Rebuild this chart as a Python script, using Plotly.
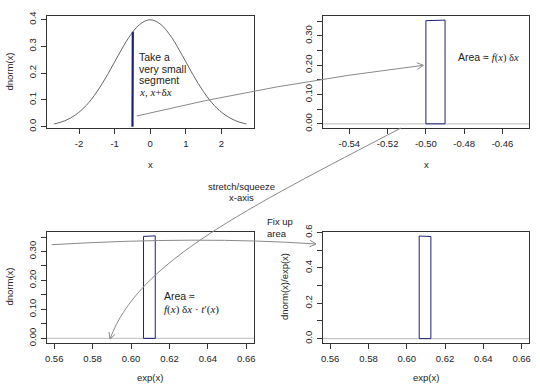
import math
import plotly.graph_objects as go

W, H = 540, 388

# ---------------- data ----------------
curve_x = [-2.7, -2.4, -2.1, -1.8, -1.5, -1.2, -0.9, -0.6, -0.3, 0.0,
           0.3, 0.6, 0.9, 1.2, 1.5, 1.8, 2.1, 2.4, 2.7]
curve_y = [0.010, 0.022, 0.044, 0.079, 0.130, 0.194, 0.266, 0.333, 0.381, 0.399,
           0.381, 0.333, 0.266, 0.194, 0.130, 0.079, 0.044, 0.022, 0.010]
seg_x = [-0.50, -0.49]          # segment x, x+dx
seg_y = [0.352, 0.354]          # dnorm at the segment ends
seg_exp_x = [0.6065, 0.6126]    # exp(x) at the segment ends
seg_ratio_y = [0.5805, 0.5775]  # dnorm(x)/exp(x)

p1_xticks = [-2, -1, 0, 1, 2]
p1_yticks = [0.0, 0.1, 0.2, 0.3, 0.4]
p2_xticks = [-0.54, -0.52, -0.50, -0.48, -0.46]
dens_yticks = [0.00, 0.05, 0.10, 0.15, 0.20, 0.25, 0.30, 0.35]
dens_ylabels = ["0.00", "", "0.10", "", "0.20", "", "0.30", ""]
exp_xticks = [0.56, 0.58, 0.60, 0.62, 0.64, 0.66]
ratio_yticks = [0.0, 0.1, 0.2, 0.3, 0.4, 0.5, 0.6]
ratio_ylabels = ["0.0", "", "0.2", "", "0.4", "", "0.6"]

# ---------------- layout helpers ----------------
SANS = "Liberation Sans, Arial, sans-serif"
SERIF = "Liberation Serif, Times New Roman, serif"
TXT = "#222222"
BOX = "#333333"
NAVY = "#1f1f7a"
ARROW = "#8a8a8a"


def px(x):
    return x / W


def py(y):
    return 1 - y / H


def poly(xs, ys):
    return [xs[0], xs[0], xs[1], xs[1], xs[0]], [0, ys[0], ys[1], 0, 0]


fig = go.Figure()

# panel 1: density curve with segment
fig.add_trace(go.Scatter(x=curve_x, y=curve_y, mode="lines", line=dict(color="#666666", width=1, shape="spline"),
                         xaxis="x", yaxis="y", hoverinfo="skip"))
sx, sy = poly(seg_x, seg_y)
fig.add_trace(go.Scatter(x=sx, y=sy, mode="lines", line=dict(color=NAVY, width=2.2),
                         xaxis="x", yaxis="y", hoverinfo="skip"))
# panel 2: zoomed segment
fig.add_trace(go.Scatter(x=sx, y=sy, mode="lines", line=dict(color=NAVY, width=1),
                         xaxis="x2", yaxis="y2", hoverinfo="skip"))
# panel 3: exp-transformed segment
ex, ey = poly(seg_exp_x, seg_y)
fig.add_trace(go.Scatter(x=ex, y=ey, mode="lines", line=dict(color=NAVY, width=1),
                         xaxis="x3", yaxis="y3", hoverinfo="skip"))
# panel 4: area-corrected
rx, ry = poly(seg_exp_x, seg_ratio_y)
fig.add_trace(go.Scatter(x=rx, y=ry, mode="lines", line=dict(color=NAVY, width=1),
                         xaxis="x4", yaxis="y4", hoverinfo="skip"))


def xaxis(domain, rng, vals, texts, anchor):
    return dict(domain=domain, range=rng, tickmode="array", tickvals=vals, ticktext=texts,
                ticks="outside", ticklen=5, tickcolor=BOX, showline=True, linecolor=BOX, linewidth=1,
                mirror=True, showgrid=False, zeroline=False, automargin=False, anchor=anchor,
                ticklabelstandoff=2,
                tickfont=dict(family=SANS, size=9.5, color=TXT))


def yaxis(domain, rng, vals, texts, anchor):
    d = xaxis(domain, rng, vals, texts, anchor)
    d["tickangle"] = -90
    d["ticklabelstandoff"] = 1
    return d


top = [py(128), py(15.7)]
bot = [py(342.5), py(231.5)]
left = [px(46.5), px(254)]
right = [px(322.5), px(529.3)]

fig.update_layout(
    width=W, height=H, margin=dict(l=0, r=0, t=0, b=0),
    paper_bgcolor="white", plot_bgcolor="white", showlegend=False,
    xaxis=xaxis(left, [-2.916, 2.916], p1_xticks, [str(v) for v in p1_xticks], "y"),
    yaxis=yaxis(top, [-0.005, 0.414], p1_yticks, [f"{v:.1f}" for v in p1_yticks], "x"),
    xaxis2=xaxis(right, [-0.554, -0.446], p2_xticks, [f"{v:.2f}" for v in p2_xticks], "y2"),
    yaxis2=yaxis(top, [-0.0142, 0.369], dens_yticks, dens_ylabels, "x2"),
    xaxis3=xaxis(left, [0.556, 0.664], exp_xticks, [f"{v:.2f}" for v in exp_xticks], "y3"),
    yaxis3=yaxis(bot, [-0.0142, 0.369], dens_yticks, dens_ylabels, "x3"),
    xaxis4=xaxis(right, [0.556, 0.664], exp_xticks, [f"{v:.2f}" for v in exp_xticks], "y4"),
    yaxis4=yaxis(bot, [-0.022, 0.606], ratio_yticks, ratio_ylabels, "x4"),
)

shapes = []
# horizontal reference lines at 0
for xa, ya in [("x2", "y2"), ("x3", "y3"), ("x4", "y4")]:
    shapes.append(dict(type="line", xref=f"{xa} domain", yref=ya, x0=0, x1=1, y0=0, y1=0,
                       line=dict(color="#c8c8c8", width=1.2), layer="below"))


def arrow_head(tip, frm, length=7, ang=28):
    dx, dy = tip[0] - frm[0], tip[1] - frm[1]
    n = math.hypot(dx, dy)
    ux, uy = dx / n, dy / n
    pts = []
    for s in (1, -1):
        a = math.radians(ang) * s
        bx = -(ux * math.cos(a) - uy * math.sin(a))
        by = -(ux * math.sin(a) + uy * math.cos(a))
        pts.append((tip[0] + bx * length, tip[1] + by * length))
    return (f"M {px(pts[0][0])},{py(pts[0][1])} L {px(tip[0])},{py(tip[1])} "
            f"L {px(pts[1][0])},{py(pts[1][1])}")


def P(p):
    return f"{px(p[0])},{py(p[1])}"


# arrow 1: panel 1 -> panel 2 (quadratic)
a1 = [(136.7, 116), (272.5, 83.4), (423.3, 65.3)]
# arrow 2: stretch/squeeze (cubic)
a2 = [(401, 128), (244, 210), (138, 262), (110, 339)]
# arrow 3: fix up area (quadratic)
a3 = [(51.7, 244.7), (200, 236), (316, 244)]

for path in [
    f"M {P(a1[0])} Q {P(a1[1])} {P(a1[2])}",
    arrow_head(a1[2], a1[1]),
    f"M {P(a2[0])} C {P(a2[1])} {P(a2[2])} {P(a2[3])}",
    arrow_head(a2[3], a2[2]),
    f"M {P(a3[0])} Q {P(a3[1])} {P(a3[2])}",
    arrow_head(a3[2], a3[1]),
]:
    shapes.append(dict(type="path", xref="paper", yref="paper", path=path,
                       line=dict(color=ARROW, width=1)))

fig.update_layout(shapes=shapes)

ann = []


def text(x, y, s, size=10.5, xanchor="left", family=SANS, angle=0):
    ann.append(dict(x=px(x), y=py(y), xref="paper", yref="paper", text=s, showarrow=False,
                    xanchor=xanchor, yanchor="middle", textangle=angle,
                    font=dict(family=family, size=size, color=TXT)))


def serif(s):
    return f"<span style='font-family:{SERIF}'>{s}</span>"


# axis titles
text(150.2, 164, "x", 9.5, "center")
text(426, 164, "x", 9.5, "center")
text(150, 377, "exp(x)", 9.5, "center")
text(426, 377, "exp(x)", 9.5, "center")
text(8.5, 72, "dnorm(x)", 9.5, "center", angle=-90)
text(8.5, 287, "dnorm(x)", 9.5, "center", angle=-90)
text(284, 287, "dnorm(x)/exp(x)", 9.5, "center", angle=-90)

# panel annotations
text(136.5, 56.7, "Take a")
text(136.5, 68.7, "very small")
text(136.5, 80.3, "segment")
text(137, 91.5, serif("<i>x</i>, <i>x</i>+δ<i>x</i>"), 11)
text(455.5, 57, "Area ≈ " + serif("<i>f</i>(<i>x</i>) δ<i>x</i>"), 10.5)
text(162.3, 295.7, "Area ≈")
text(162.3, 309.5, serif("<i>f</i>(<i>x</i>) δ<i>x</i> · <i>t</i>′(<i>x</i>)"), 11)
text(241.5, 186, "stretch/squeeze", 9.5, "center")
text(241, 197.5, "x-axis", 9.5, "center")
text(265, 221, "Fix up", 9.5)
text(265, 233, "area", 9.5)

fig.update_layout(annotations=ann)

fig.write_html("out.html", config={"displayModeBar": False},
               post_script="document.body.style.margin='0';document.body.style.padding='0';")
